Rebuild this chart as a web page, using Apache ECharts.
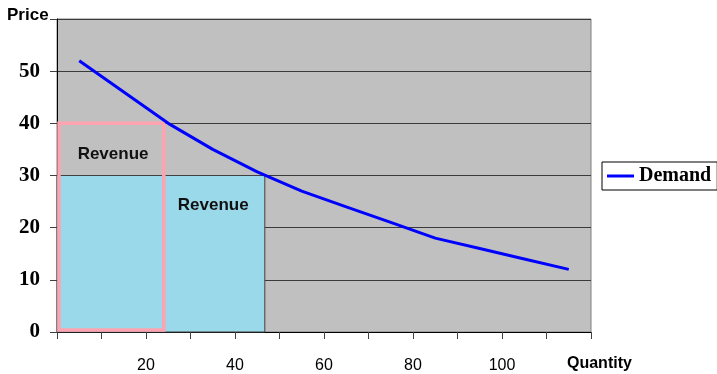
<!DOCTYPE html>
<html>
<head>
<meta charset="utf-8">
<script src="https://cdn.jsdelivr.net/npm/echarts@6/dist/echarts.min.js"></script>
<style>
  html, body { margin: 0; padding: 0; background: #ffffff; }
  #chart { width: 717px; height: 374px; }
</style>
</head>
<body>
<div id="chart"></div>
<script>
// Demand schedule
const quantity = [5, 15, 25, 35, 45, 55, 65, 75, 85, 95, 105, 115];
const price = [52, 46, 40, 35, 30.7, 27, 24, 21, 18, 16, 14, 12];

// Revenue boxes: quantity sold and price charged (outline box first, filled box second)
const revenueQuantity = [24, 46.7];
const revenuePrice = [40, 30];
const revenueText = ['Revenue', 'Revenue'];
const revenueTextQuantity = [12.6, 35.1];
const revenueTextPrice = [34, 24.3];

// Axis ticks
const xLabelValues = [20, 40, 60, 80, 100];
const yLabelValues = [0, 10, 20, 30, 40, 50];

const chart = echarts.init(document.getElementById('chart'), null, { renderer: 'canvas' });

const boxStyles = [
  { fill: null, stroke: '#FFA3B1', lineWidth: 3.5, inset: 2 },
  { fill: '#99D9EA', stroke: '#404040', lineWidth: 1, inset: 0 }
];

const boxData = revenueQuantity.map((q, i) => [q, revenuePrice[i], revenueTextQuantity[i], revenueTextPrice[i], i]);
// Filled box underneath, outline box on top
const drawOrder = [1, 0];

chart.setOption({
  animation: false,
  grid: {
    left: 57, right: 126, top: 19, bottom: 40,
    show: true, backgroundColor: '#C0C0C0', borderColor: '#808080', borderWidth: 1
  },
  legend: {
    left: 602, top: 162,
    padding: [4, 6, 4, 5],
    borderColor: '#000', borderWidth: 1, backgroundColor: '#fff', borderRadius: 0,
    itemWidth: 27, itemHeight: 3,
    data: [{ name: 'Demand', icon: 'rect' }],
    textStyle: { fontFamily: 'Liberation Serif', fontWeight: 'bold', fontSize: 20, color: '#000' }
  },
  xAxis: {
    type: 'value', min: 0, max: 120, interval: 10,
    axisLine: { lineStyle: { color: '#000', width: 1 } },
    axisTick: { show: true, length: 7, lineStyle: { color: '#404040' } },
    splitLine: { show: false },
    axisLabel: {
      margin: 26,
      fontFamily: 'Arial, Liberation Sans', fontSize: 16, color: '#000',
      formatter: v => xLabelValues.includes(v) ? String(v) : ''
    }
  },
  yAxis: {
    type: 'value', min: 0, max: 60, interval: 10,
    axisLine: { show: true, lineStyle: { color: '#000', width: 1 } },
    axisTick: { show: true, length: 7, lineStyle: { color: '#404040' } },
    splitLine: { show: true, lineStyle: { color: '#3a3a3a', width: 1 } },
    axisLabel: {
      margin: 17,
      fontFamily: 'Liberation Serif', fontWeight: 'bold', fontSize: 21, color: '#000',
      formatter: v => yLabelValues.includes(v) ? String(v) : ''
    }
  },
  graphic: [
    { type: 'text', left: 7, top: 7, style: { text: 'Price', font: 'bold 17px Arial, Liberation Sans', fill: '#000' } },
    { type: 'text', left: 567, top: 356, style: { text: 'Quantity', font: 'bold 16px Arial, Liberation Sans', fill: '#000' } }
  ],
  series: [
    {
      type: 'custom',
      name: 'Revenue',
      coordinateSystem: 'cartesian2d',
      z: 2,
      data: drawOrder.map(i => boxData[i]),
      encode: { x: 0, y: 1 },
      renderItem: function (params, api) {
        const q = api.value(0), p = api.value(1);
        const idx = api.value(4);
        const st = boxStyles[idx];
        const o = api.coord([0, 0]);
        const c = api.coord([q, p]);
        const t = api.coord([api.value(2), api.value(3)]);
        const x0 = o[0] + st.inset, y0 = o[1] - st.inset;
        return {
          type: 'group',
          children: [
            {
              type: 'rect',
              shape: { x: x0, y: c[1], width: c[0] - x0, height: y0 - c[1] },
              style: { fill: st.fill || 'none', stroke: st.stroke, lineWidth: st.lineWidth }
            },
            {
              type: 'text',
              x: t[0], y: t[1],
              style: {
                text: revenueText[idx],
                font: 'bold 17px Arial, Liberation Sans',
                fill: '#111', align: 'center', verticalAlign: 'middle'
              }
            }
          ]
        };
      }
    },
    {
      type: 'line',
      name: 'Demand',
      z: 5,
      data: quantity.map((q, i) => [q, price[i]]),
      symbol: 'none',
      smooth: false,
      lineStyle: { color: '#0000FF', width: 3 },
      itemStyle: { color: '#0000FF' }
    }
  ]
});
</script>
</body>
</html>
